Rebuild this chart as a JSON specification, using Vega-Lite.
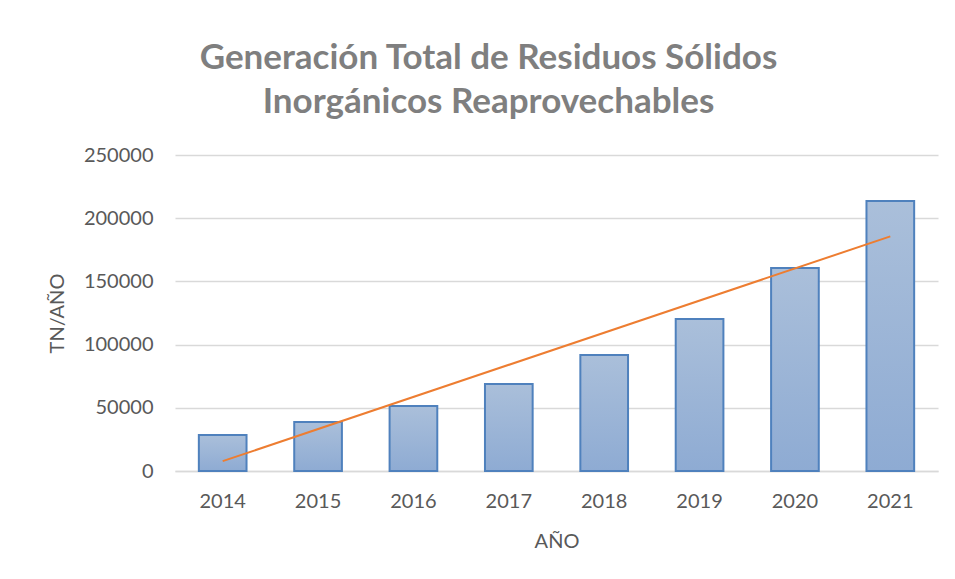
{
  "$schema": "https://vega.github.io/schema/vega-lite/v6.json",
  "width": 763,
  "height": 316,
  "autosize": {"type": "none"},
  "padding": {"left": 175, "top": 155, "right": 17, "bottom": 108},
  "background": "white",
  "title": {
    "text": ["Generación Total de Residuos Sólidos", "Inorgánicos Reaprovechables"],
    "anchor": "middle",
    "dx": -68,
    "offset": 25,
    "font": "Lato",
    "fontSize": 35,
    "fontWeight": "bold",
    "color": "#7f7f7f",
    "lineHeight": 44
  },
  "data": {
    "values": [
      {"year": 2014, "value": 28500},
      {"year": 2015, "value": 38800},
      {"year": 2016, "value": 51400},
      {"year": 2017, "value": 68800},
      {"year": 2018, "value": 91800},
      {"year": 2019, "value": 120200},
      {"year": 2020, "value": 160600},
      {"year": 2021, "value": 213600}
    ]
  },
  "config": {
    "view": {"stroke": null},
    "font": "Lato",
    "axis": {
      "labelFont": "Lato",
      "titleFont": "Lato",
      "labelColor": "#595959",
      "titleColor": "#595959",
      "labelFontSize": 20,
      "titleFontSize": 20,
      "titleFontWeight": "normal",
      "ticks": false
    }
  },
  "layer": [
    {
      "mark": {
        "type": "bar",
        "fill": {
          "gradient": "linear",
          "x1": 0, "y1": 0, "x2": 0, "y2": 1,
          "stops": [
            {"offset": 0, "color": "#aabfda"},
            {"offset": 1, "color": "#8eabd3"}
          ]
        },
        "stroke": "#4f81bd",
        "strokeWidth": 2
      },
      "encoding": {
        "x": {
          "field": "year",
          "type": "ordinal",
          "scale": {"paddingInner": 0.5, "paddingOuter": 0.25},
          "axis": {
            "title": "AÑO",
            "labelAngle": 0,
            "labelPadding": 20,
            "titlePadding": 20,
            "domainColor": "#d9d9d9",
            "domainWidth": 1.5
          }
        },
        "y": {
          "field": "value",
          "type": "quantitative",
          "scale": {"domain": [0, 250000], "nice": false},
          "axis": {
            "title": "TN/AÑO",
            "values": [0, 50000, 100000, 150000, 200000, 250000],
            "format": "d",
            "domain": false,
            "gridColor": "#d9d9d9",
            "gridWidth": 1.5,
            "labelPadding": 22,
            "titlePadding": 16
          }
        }
      }
    },
    {
      "transform": [
        {"regression": "value", "on": "year", "method": "linear"}
      ],
      "mark": {"type": "line", "color": "#ed7d31", "strokeWidth": 2},
      "encoding": {
        "x": {"field": "year", "type": "ordinal"},
        "y": {"field": "value", "type": "quantitative"}
      }
    }
  ]
}
